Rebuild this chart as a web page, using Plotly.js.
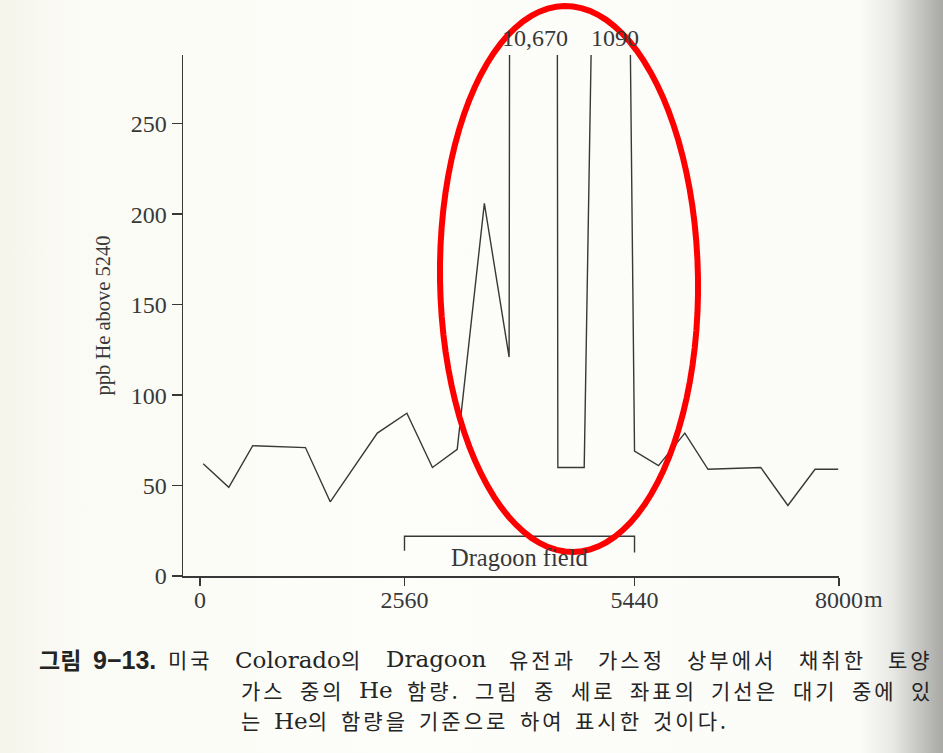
<!DOCTYPE html>
<html>
<head>
<meta charset="utf-8">
<script src="https://cdn.plot.ly/plotly-3.0.1.min.js"></script>
<style>
  html, body { margin: 0; padding: 0; }
  body {
    width: 943px; height: 753px; overflow: hidden;
    background: linear-gradient(to right, #f5f4ea 0px, #fbfbf5 70px, #fdfdfa 400px, #fbfbf8 860px, #e8e8e4 893px, #c2c2be 922px, #a8a8a4 943px);
  }
  #chart { width: 943px; height: 753px; }
</style>
</head>
<body>
<div id="chart"></div>
<script>
// Soil-gas helium traverse across the Dragoon field, Colorado
// distance along the traverse (m) and He excess over the 5240 ppb air baseline
const distance = [40, 360, 660, 1320, 1630, 2220, 2590, 2910, 3220, 3560, 3870, 4200, 4480, 4810, 5200, 5440, 5740, 6070, 6360, 7020, 7360, 7700, 7990];
const heExcess = [62, 49, 72, 71, 41, 79, 90, 60, 70, 206, 121, 10670, 60, 60, 1090, 69, 61, 79, 59, 60, 39, 59, 59];

const xTickVals = [0, 2560, 5440, 8000];
const xTickText = ['0', '2560', '5440', '8000'];
const xUnit = 'm';
const yTickVals = [0, 50, 100, 150, 200, 250];
const yTitle = 'ppb He above 5240';
const fieldBounds = [2560, 5440];
const fieldName = 'Dragoon field';

const captionLabel = ['그림', '9−13.'];
const captionLines = [
  '미국 Colorado의 Dragoon 유전과 가스정 상부에서 채취한 토양',
  '가스 중의 He 함량. 그림 중 세로 좌표의 기선은 대기 중에 있',
  '는 He의 함량을 기준으로 하여 표시한 것이다.'
];

// plot area geometry (px)
const M = { l: 183, r: 104, t: 55, b: 177 };
const W = 943 - M.l - M.r, H = 753 - M.t - M.b;
const yTop = 288;
const px = x => (x - M.l) / W;
const py = y => (M.t + H - y) / H;

const ink = '#383838';
const serif = '"Liberation Serif", "Times New Roman", serif';
const hangul = '"Noto Sans CJK KR", sans-serif';
const capSerif = '"DejaVu Serif", serif';

// values above the axis top get their number written over the clipped peak
const fmt = v => v >= 10000 ? v.toLocaleString('en-US') : String(v);
const annotations = [];
distance.forEach((d, i) => {
  if (heExcess[i] > yTop) {
    annotations.push({
      x: d, xref: 'x', y: py(38), yref: 'paper', text: fmt(heExcess[i]),
      showarrow: false, xanchor: 'center', yanchor: 'middle',
      font: { family: serif, size: 24, color: ink }
    });
  }
});

// field label under its bracket
annotations.push({
  x: (fieldBounds[0] + fieldBounds[1]) / 2, xref: 'x', y: py(557), yref: 'paper',
  text: fieldName, showarrow: false, xanchor: 'center', yanchor: 'middle',
  font: { family: serif, size: 24.5, color: ink }
});

// unit after the last x tick label
annotations.push({
  x: xTickVals[xTickVals.length - 1], xref: 'x', xshift: 23, y: py(599), yref: 'paper',
  text: xUnit, showarrow: false, xanchor: 'left', yanchor: 'middle',
  font: { family: serif, size: 24, color: ink }
});

// caption: bold label, then justified body lines
const ctx = document.createElement('canvas').getContext('2d');
const latinSize = 23, hangulSize = 21, hangulTrack = 3;
const seg = /[A-Za-z0-9]+|[^A-Za-z0-9]+/g;
const isLatin = s => /^[A-Za-z0-9]/.test(s);
function wordWidth(w) {
  return (w.match(seg) || []).reduce((sum, s) => {
    if (isLatin(s)) {
      ctx.font = latinSize + 'px ' + capSerif;
      return sum + ctx.measureText(s).width;
    }
    ctx.font = hangulSize + 'px ' + hangul;
    return sum + ctx.measureText(s).width + hangulTrack * s.length;
  }, 0);
}
function wordHtml(w) {
  return (w.match(seg) || []).map(s => isLatin(s)
    ? '<span style="font-family:\'DejaVu Serif\';font-size:' + latinSize + 'px">' + s + '</span>'
    : '<span style="letter-spacing:' + hangulTrack + 'px">' + s + '</span>').join('');
}
function placeLine(text, x0, x1, yc, justify) {
  const words = text.split(' ');
  const widths = words.map(wordWidth);
  const sum = widths.reduce((a, b) => a + b, 0);
  const gap = justify ? (x1 - x0 - sum) / (words.length - 1) : 11;
  let x = x0;
  words.forEach((w, i) => {
    annotations.push({
      x: px(x), xref: 'paper', y: py(yc), yref: 'paper', text: wordHtml(w),
      showarrow: false, xanchor: 'left', yanchor: 'middle', borderpad: 0,
      font: { family: hangul, size: hangulSize, color: '#242424' }
    });
    x += widths[i] + gap;
  });
}
annotations.push({
  x: px(38), xref: 'paper', y: py(659), yref: 'paper', text: '<b>' + captionLabel[0] + '</b>',
  showarrow: false, xanchor: 'left', yanchor: 'middle', borderpad: 0,
  font: { family: hangul, size: 23, color: '#242424' }
});
annotations.push({
  x: px(92), xref: 'paper', y: py(660), yref: 'paper', text: '<b>' + captionLabel[1] + '</b>',
  showarrow: false, xanchor: 'left', yanchor: 'middle', borderpad: 0,
  font: { family: '"Liberation Sans", sans-serif', size: 25, color: '#242424' }
});
placeLine(captionLines[0], 167, 932, 659, true);
placeLine(captionLines[1], 240, 932, 689.5, true);
placeLine(captionLines[2], 240, 0, 720, false);

// bracket marking the field extent
const shapes = [{
  type: 'path', xref: 'x', yref: 'y', layer: 'above',
  path: 'M' + fieldBounds[0] + ',' + 14 + ' L' + fieldBounds[0] + ',' + 22 +
        ' L' + fieldBounds[1] + ',' + 22 + ' L' + fieldBounds[1] + ',' + 13,
  line: { color: ink, width: 1.4 }
}];

// red ellipse ringing the anomaly
(function () {
  const cx = 569, cy = 279, a = 129, b = 273, th = -0.0165;
  let p = '';
  for (let k = 0; k <= 96; k++) {
    const t = 2 * Math.PI * k / 96;
    const u = a * Math.cos(t), v = b * Math.sin(t);
    const x = cx + u * Math.cos(th) - v * Math.sin(th);
    const y = cy + u * Math.sin(th) + v * Math.cos(th);
    p += (k ? ' L' : 'M') + px(x).toFixed(5) + ',' + py(y).toFixed(5);
  }
  shapes.push({ type: 'path', xref: 'paper', yref: 'paper', layer: 'above', path: p + ' Z',
                line: { color: '#ff0000', width: 6 } });
})();

const axisCommon = {
  showline: true, linecolor: ink, linewidth: 1.5, mirror: false,
  showgrid: false, zeroline: false,
  ticks: 'outside', tickcolor: ink, tickwidth: 1.5,
  tickfont: { family: serif, size: 24, color: ink }
};

const trace = {
  x: distance, y: heExcess, type: 'scatter', mode: 'lines',
  line: { color: '#383838', width: 1.4 }, hoverinfo: 'x+y'
};

const layout = {
  width: 943, height: 753, margin: M,
  paper_bgcolor: 'rgba(0,0,0,0)', plot_bgcolor: 'rgba(0,0,0,0)',
  showlegend: false,
  xaxis: Object.assign({}, axisCommon, {
    range: [-213, 8000], tickvals: xTickVals, ticktext: xTickText, ticklen: 8,
    ticklabelstandoff: -6
  }),
  yaxis: Object.assign({}, axisCommon, {
    range: [0, yTop], tickvals: yTickVals, ticklen: 10,
    title: { text: yTitle, standoff: 14, font: { family: serif, size: 20.5, color: ink } }
  }),
  annotations: annotations,
  shapes: shapes
};

Plotly.newPlot('chart', [trace], layout, { displayModeBar: false, staticPlot: true });
</script>
</body>
</html>
